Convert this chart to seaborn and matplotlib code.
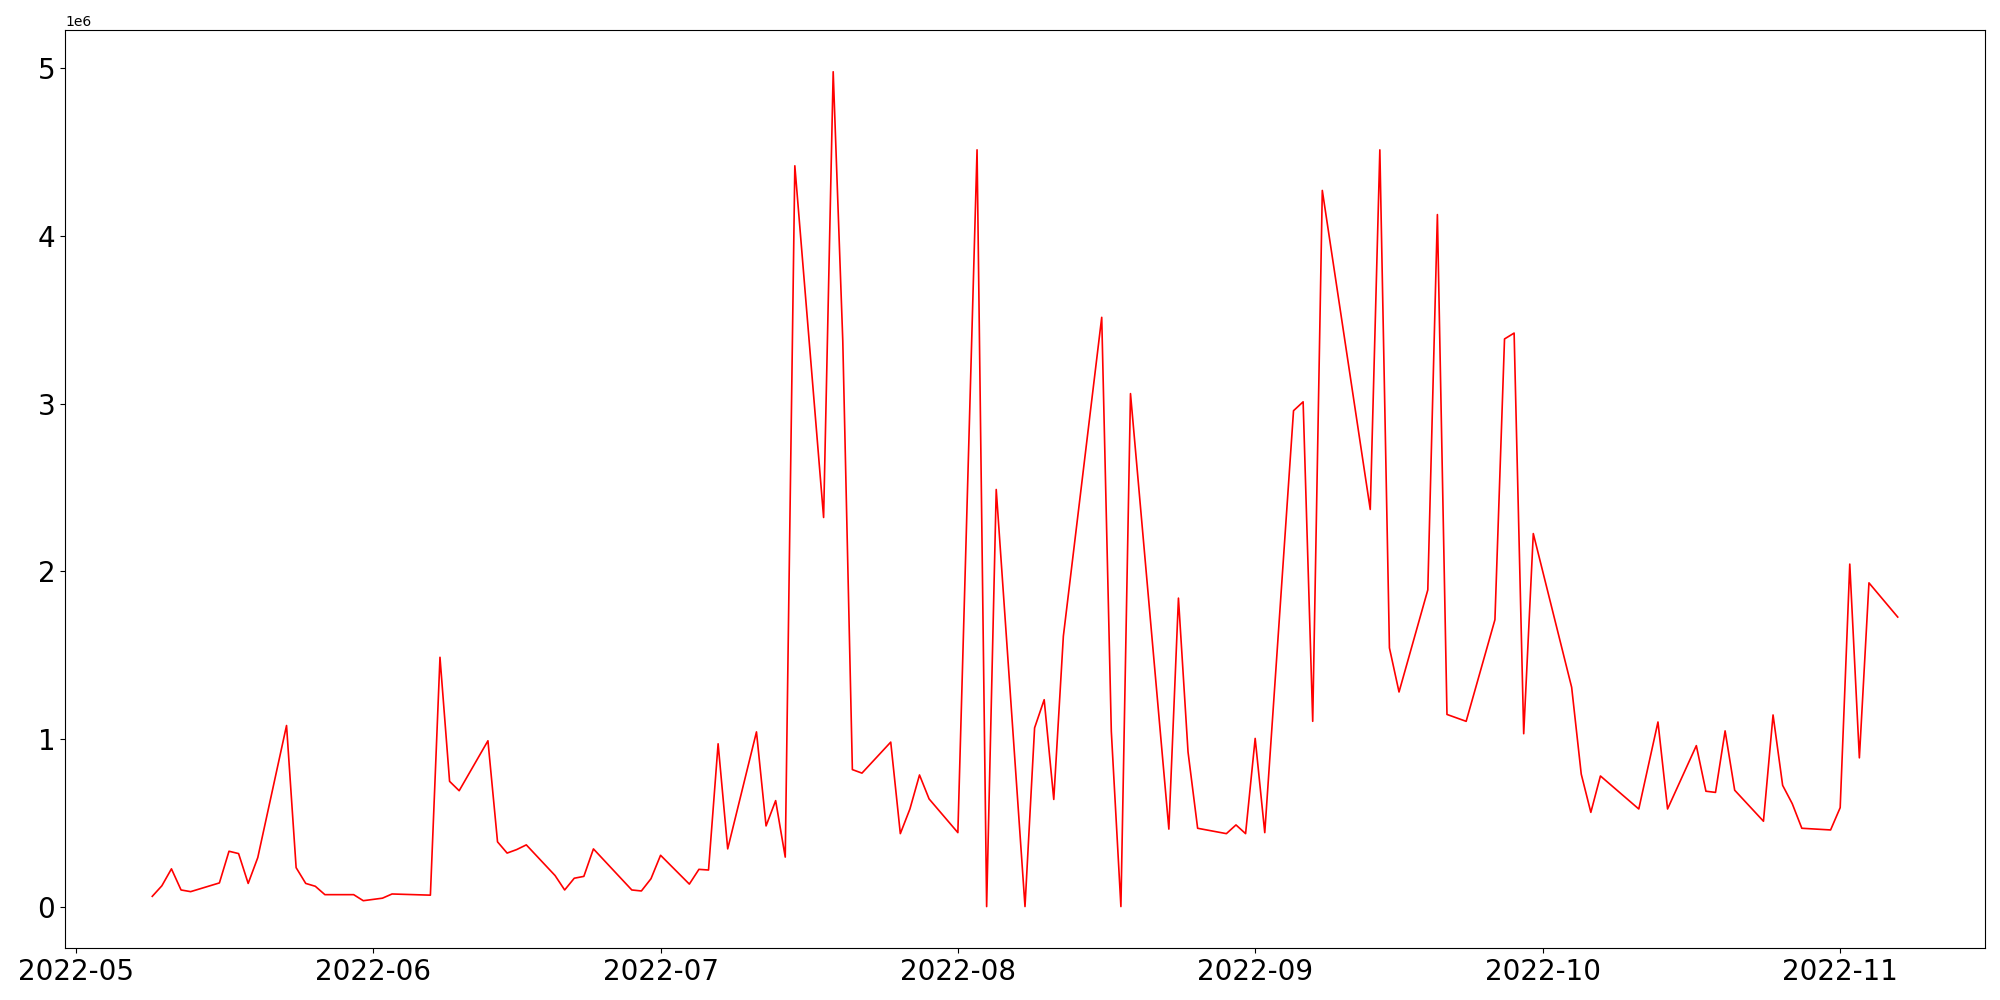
import pandas as pd
import matplotlib
matplotlib.use("Agg")
import matplotlib.pyplot as plt
import seaborn as sns

# Trading days (2022) and the values, in millions.
dates = [
    "05-09", "05-10", "05-11", "05-12", "05-13", "05-16", "05-17", "05-18",
    "05-19", "05-20", "05-23", "05-24", "05-25", "05-26", "05-27", "05-30",
    "05-31", "06-02", "06-03", "06-07", "06-08", "06-09", "06-10", "06-13",
    "06-14", "06-15", "06-16", "06-17", "06-20", "06-21", "06-22", "06-23",
    "06-24", "06-28", "06-29", "06-30", "07-01", "07-04", "07-05", "07-06",
    "07-07", "07-08", "07-11", "07-12", "07-13", "07-14", "07-15", "07-18",
    "07-19", "07-20", "07-21", "07-22", "07-25", "07-26", "07-27", "07-28",
    "07-29", "08-01", "08-03", "08-04", "08-05", "08-08", "08-09", "08-10",
    "08-11", "08-12", "08-16", "08-17", "08-18", "08-19", "08-23", "08-24",
    "08-25", "08-26", "08-29", "08-30", "08-31", "09-01", "09-02", "09-05",
    "09-06", "09-07", "09-08", "09-13", "09-14", "09-15", "09-16", "09-19",
    "09-20", "09-21", "09-23", "09-26", "09-27", "09-28", "09-29", "09-30",
    "10-04", "10-05", "10-06", "10-07", "10-11", "10-13", "10-14", "10-17",
    "10-18", "10-19", "10-20", "10-21", "10-24", "10-25", "10-26", "10-27",
    "10-28", "10-31", "11-01", "11-02", "11-03", "11-04", "11-07",
]

values_m = [
    0.061, 0.124, 0.225, 0.099, 0.089, 0.141, 0.330, 0.316,
    0.138, 0.292, 1.080, 0.232, 0.138, 0.121, 0.071, 0.071,
    0.035, 0.050, 0.075, 0.068, 1.487, 0.747, 0.691, 0.989,
    0.386, 0.319, 0.340, 0.368, 0.185, 0.099, 0.169, 0.180,
    0.344, 0.099, 0.093, 0.166, 0.306, 0.134, 0.222, 0.218,
    0.971, 0.344, 1.042, 0.481, 0.632, 0.295, 4.419, 2.321,
    4.980, 3.375, 0.817, 0.796, 0.981, 0.435, 0.582, 0.785,
    0.642, 0.441, 4.514, 0.000, 2.488, 0.000, 1.066, 1.234,
    0.639, 1.613, 3.515, 1.045, 0.000, 3.060, 0.462, 1.840,
    0.922, 0.467, 0.435, 0.487, 0.435, 1.003, 0.441, 2.958,
    3.011, 1.105, 4.272, 2.369, 4.514, 1.543, 1.280, 1.889,
    4.128, 1.146, 1.105, 1.711, 3.386, 3.421, 1.031, 2.225,
    1.308, 0.790, 0.562, 0.779, 0.582, 1.101, 0.582, 0.960,
    0.688, 0.681, 1.048, 0.694, 0.509, 1.143, 0.723, 0.614,
    0.467, 0.457, 0.590, 2.043, 0.887, 1.931, 1.727,
]

# Build the series.
x = pd.to_datetime(["2022-" + d for d in dates])
y = [v * 1e6 for v in values_m]

# Initialize the figure.
fig, ax = plt.subplots(figsize=(20, 10), dpi=100)

# Plot.
sns.lineplot(x=x, y=y, color="red", linewidth=1.2, ax=ax)

# Bigger tick labels.
ax.tick_params(axis="both", labelsize=20)
ax.set_xlabel("")
ax.set_ylabel("")

fig.subplots_adjust(left=0.0325, right=0.9925, bottom=0.0517, top=0.97)

plt.savefig("out.png", dpi=100)
